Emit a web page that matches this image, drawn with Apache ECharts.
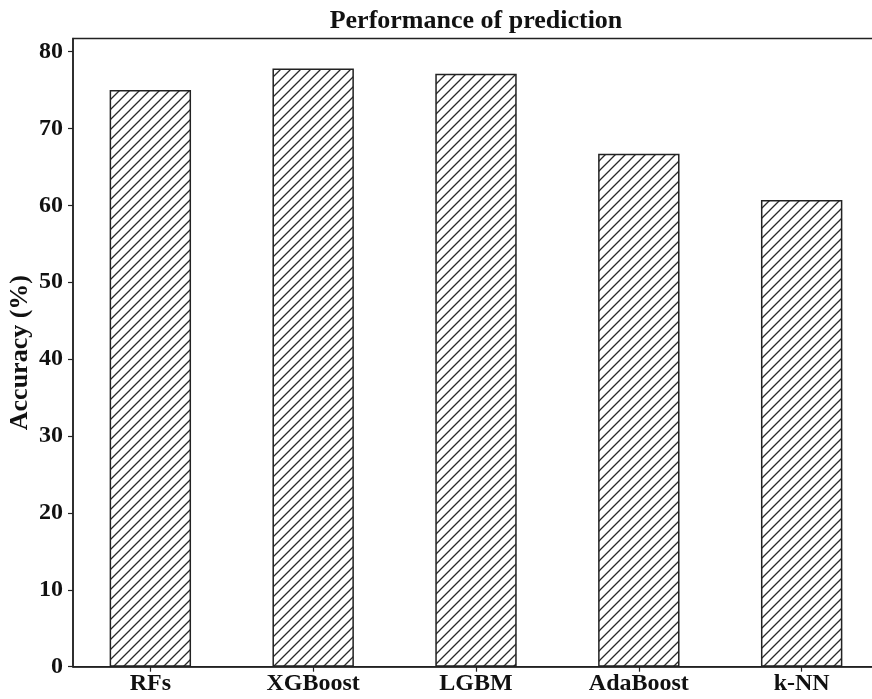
<!DOCTYPE html>
<html>
<head>
<meta charset="utf-8">
<script src="https://cdn.jsdelivr.net/npm/echarts@6/dist/echarts.min.js"></script>
<style>
html,body{margin:0;padding:0;background:#fff;}
#chart{width:872px;height:699px;}
</style>
</head>
<body>
<div id="chart"></div>
<script>
const categories = ["RFs", "XGBoost", "LGBM", "AdaBoost", "k-NN"];
const accuracy = [75.0, 77.8, 77.1, 66.7, 60.7];
const yTicks = [0, 10, 20, 30, 40, 50, 60, 70, 80];
const titleText = "Performance of prediction";
const yName = "Accuracy (%)";

const FONT = "'Liberation Serif','Times New Roman',serif";

// hatch pattern
const pc = document.createElement('canvas');
pc.width = 10; pc.height = 10;
const ctx = pc.getContext('2d');
ctx.strokeStyle = '#2a2a2a';
ctx.lineWidth = 1.3;
ctx.beginPath();
ctx.moveTo(-1, 11); ctx.lineTo(11, -1);
ctx.moveTo(-6, 6); ctx.lineTo(6, -6);
ctx.moveTo(4, 16); ctx.lineTo(16, 4);
ctx.stroke();

const xMin = -0.475, xMax = categories.length - 1 + 0.475;
const gridLeft = 73, gridTop = 38.5, gridWidth = 806, gridHeight = 628.2;
const barPx = 0.5 / (xMax - xMin) * gridWidth;

const chart = echarts.init(document.getElementById('chart'));
chart.setOption({
  animation: false,
  backgroundColor: '#fff',
  title: {
    text: titleText,
    left: 471, top: 3, textAlign: 'center',
    textStyle: {fontFamily: FONT, fontWeight: 'bold', fontSize: 26, color: '#111'}
  },
  grid: {
    left: gridLeft, top: gridTop, width: gridWidth, height: gridHeight,
    containLabel: false, outerBoundsMode: 'none',
    show: true, borderColor: '#222', borderWidth: 1.5, backgroundColor: 'transparent'
  },
  xAxis: {
    type: 'value', min: xMin, max: xMax,
    splitLine: {show: false},
    axisLine: {show: true, onZero: false, lineStyle: {color: '#222', width: 1.5}},
    axisTick: {show: true, inside: false, length: 5, lineStyle: {color: '#222', width: 1.2}, customValues: categories.map((c, i) => i)},
    axisLabel: {
      customValues: categories.map((c, i) => i),
      formatter: v => categories[Math.round(v)] || '',
      fontFamily: FONT, fontWeight: 'bold', fontSize: 24, color: '#111', margin: 5
    }
  },
  yAxis: {
    type: 'value', min: 0, max: 81.69,
    name: yName, nameLocation: 'middle', nameGap: 40, nameRotate: 90,
    nameMoveOverlap: false,
    nameTextStyle: {fontFamily: FONT, fontWeight: 'bold', fontSize: 26, color: '#111'},
    splitLine: {show: false},
    axisLine: {show: true, onZero: false, lineStyle: {color: '#222', width: 1.5}},
    axisTick: {show: true, inside: false, length: 5, lineStyle: {color: '#222', width: 1.2}, customValues: yTicks},
    axisLabel: {
      customValues: yTicks,
      fontFamily: FONT, fontWeight: 'bold', fontSize: 24, color: '#111', margin: 10
    }
  },
  series: [{
    type: 'bar',
    data: accuracy.map((v, i) => [i, v]),
    barWidth: barPx,
    itemStyle: {
      color: {image: pc, repeat: 'repeat'},
      borderColor: '#222', borderWidth: 1.5
    }
  }]
});
</script>
</body>
</html>
